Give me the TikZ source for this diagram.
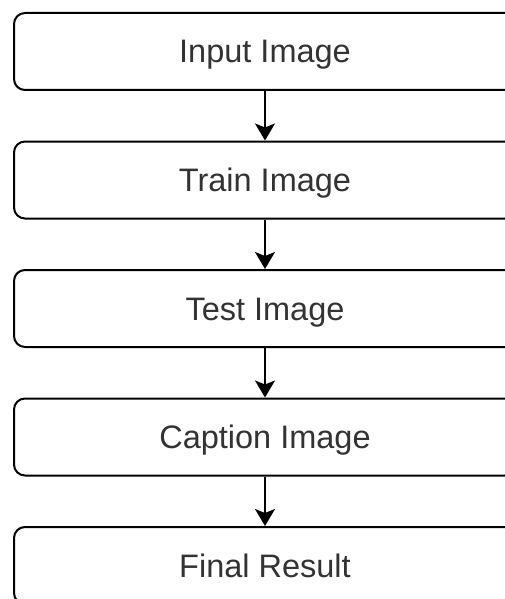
\documentclass[tikz,border=0pt]{standalone}
\usepackage{fontspec}
\setmainfont{Liberation Sans}
\usetikzlibrary{arrows.meta}

\tikzset{
  stage/.style={draw=black, line width=2pt, rounded corners=11pt,
    minimum width=502pt, minimum height=77pt, text=black!80,
    text height=23pt, text depth=0pt,
    font=\fontsize{32.5}{38}\selectfont},
  flow/.style={line width=2pt, -{Stealth[length=17pt,width=20pt,inset=4pt]}}
}

\begin{document}
\begin{tikzpicture}[x=1pt,y=1pt]%page is 505 x 599
\clip (0,0) rectangle (505,-599);
\fill[white] (0,0) rectangle (505,-599);
\node [stage] (input)   at (265,-51.5) {Input Image};
\node [stage] (train)   at (265,-180)  {Train Image};
\node [stage] (test)    at (265,-308.5) {Test Image};
\node [stage] (caption) at (265,-437)  {Caption Image};
\node [stage] (final)   at (265,-565.5) {Final Result};
\draw [flow] (input.south)   -- (train.north);
\draw [flow] (train.south)   -- (test.north);
\draw [flow] (test.south)    -- (caption.north);
\draw [flow] (caption.south) -- (final.north);
\end{tikzpicture}
\end{document}
